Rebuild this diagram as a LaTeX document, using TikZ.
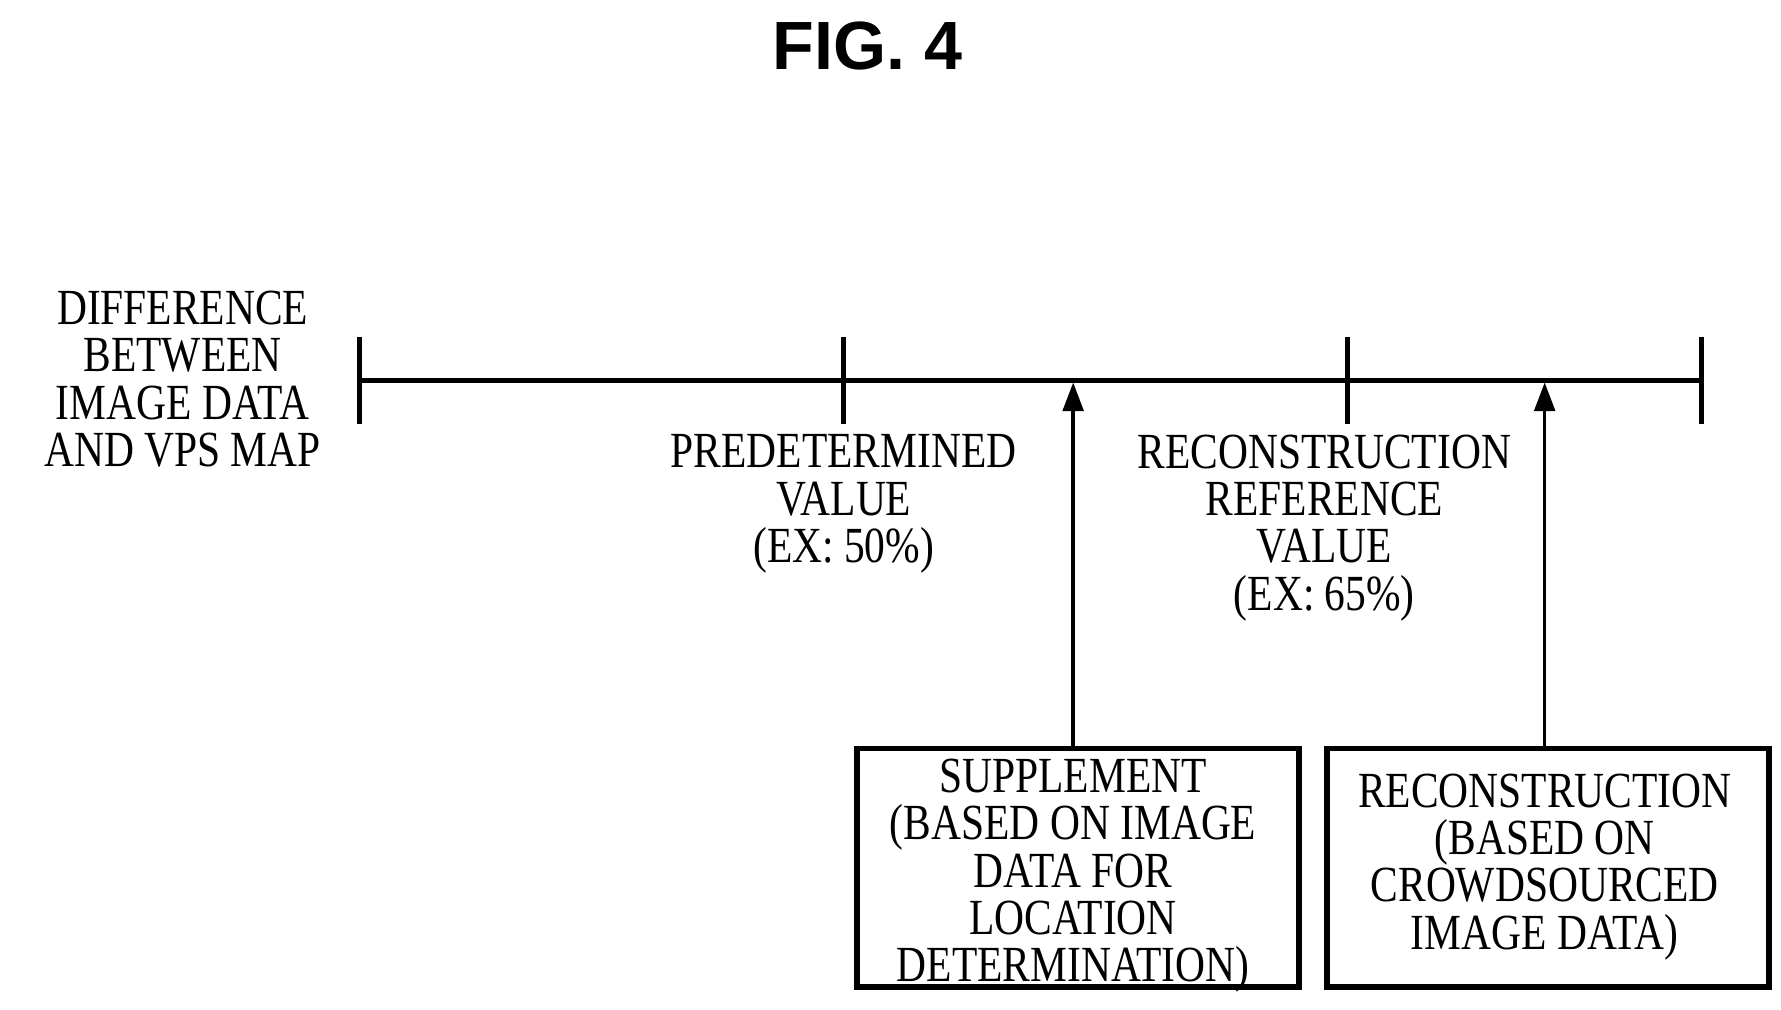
\documentclass[tikz,border=0pt]{standalone}
\usepackage{fontspec}
\setmainfont{Liberation Serif}[FakeStretch=0.82]
\setsansfont{Liberation Sans}
\usetikzlibrary{positioning, arrows.meta}
\tikzset{
	lbl/.style={align=center, font=\fontsize{12.6}{11.8}\selectfont, inner sep=0pt},
	box/.style={draw, line width=1.4pt, minimum width=3.87cm, minimum height=2.09cm, anchor=north west, inner sep=0pt},
	tick/.style={line width=1.2pt},
	up/.style={line width=0.9pt, -{Triangle[length=0.25cm, width=0.18cm]}}
}
\begin{document}
\begin{tikzpicture}[x=0.01cm, y=-0.01cm]
	\useasboundingbox (0,0) rectangle (1560,884);
	\node[font=\sffamily\bfseries\fontsize{17}{20}\selectfont] (title) at (760,40) {FIG. 4};
	% axis
	\coordinate (a0) at (315,333);
	\coordinate (a1) at (1490,333);
	\draw[tick] (a0) -- (a1);
	\foreach \x in {315, 739, 1180, 1490}
		\draw[tick] (\x,295) -- (\x,371);
	\node[lbl, anchor=north] (axis) at (160,254) {DIFFERENCE\\BETWEEN\\IMAGE DATA\\AND VPS MAP};
	\node[lbl, anchor=north] (pred) at (739,380) {PREDETERMINED\\VALUE\\(EX: 50\%)};
	\node[lbl, anchor=north] (recref) at (1160,380) {RECONSTRUCTION\\REFERENCE\\VALUE\\(EX: 65\%)};
	% boxes
	\node[box] (supp) at (748,653) {};
	\node[lbl, anchor=north] at (940,664) {SUPPLEMENT\\(BASED ON IMAGE\\DATA FOR\\LOCATION\\DETERMINATION)};
	\node[box] (recon) at (1160,653) {};
	\node[lbl, anchor=north] at (1353,677) {RECONSTRUCTION\\(BASED ON\\CROWDSOURCED\\IMAGE DATA)};
	\coordinate (t1) at (940,335);
	\coordinate (t2) at (1353,335);
	\draw[up] (supp.north -| t1) -- (t1);
	\draw[up] (recon.north -| t2) -- (t2);
\end{tikzpicture}
\end{document}
